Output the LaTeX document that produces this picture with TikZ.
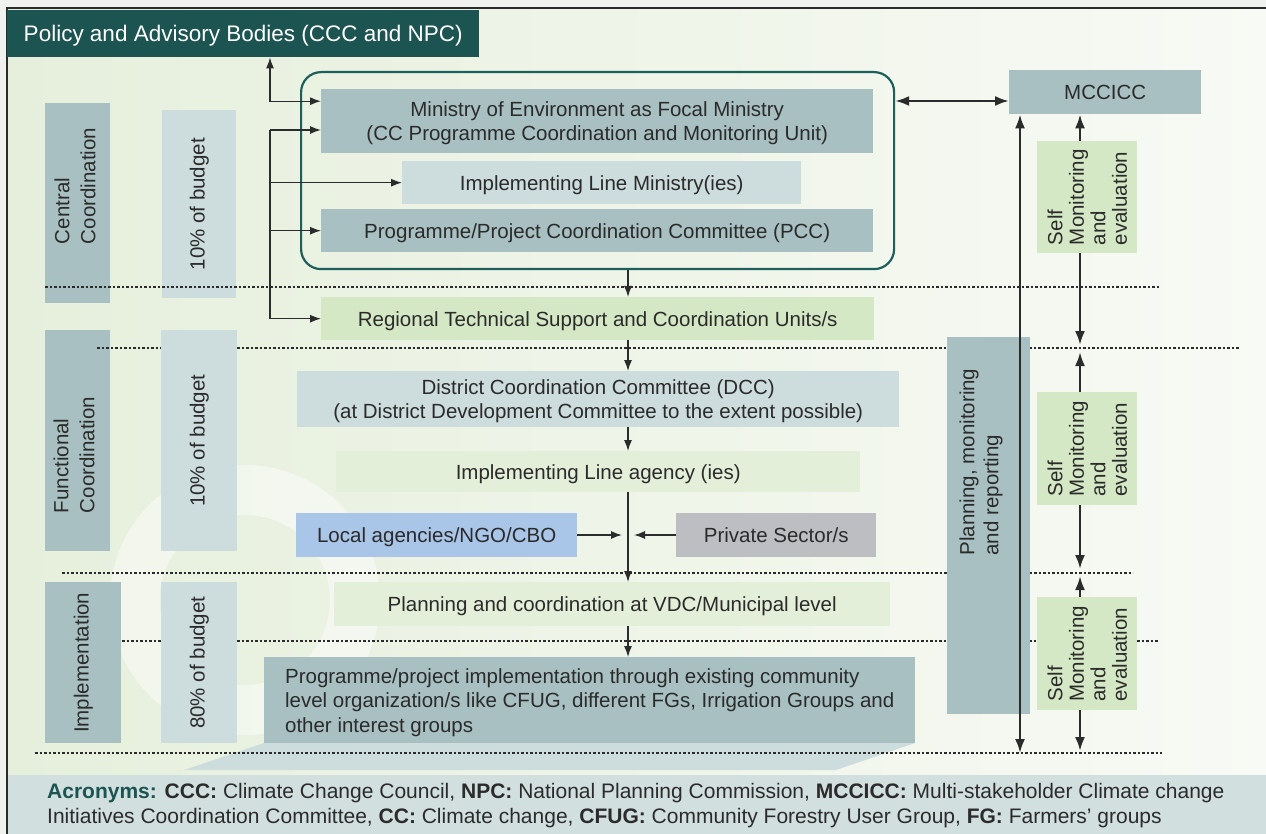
\documentclass[tikz,border=0pt]{standalone}
\usepackage{fontspec}
\setmainfont{Liberation Sans}
\usetikzlibrary{positioning, arrows.meta}

\definecolor{ink}{HTML}{2B2B2B}
\definecolor{title}{HTML}{1B5451}
\definecolor{frame}{HTML}{1F5F5B}
\definecolor{grey1}{HTML}{A8C0C1}
\definecolor{grey2}{HTML}{CDDCDC}
\definecolor{green1}{HTML}{D5E8C5}
\definecolor{green2}{HTML}{E4EFD9}
\definecolor{blue1}{HTML}{A9C5E8}
\definecolor{stone}{HTML}{BDBEC2}
\definecolor{bar}{HTML}{D2DFDF}
\definecolor{bgl}{HTML}{E6EFDC}
\definecolor{bgr}{HTML}{F8FAF5}
\definecolor{paper}{HTML}{F0F2EF}

\begin{document}
\begin{tikzpicture}[x=1pt, y=-1pt,
    every node/.style={inner sep=0pt, text=ink, font=\fontsize{20.5}{24}\selectfont},
    box/.style={rectangle, anchor=north west, align=center, text depth=0pt},
    vtext/.style={rotate=90, align=left},
    thin/.style={line width=1.3pt, draw=ink, -{Latex[length=11pt,width=8pt]}},
    thick/.style={line width=2.4pt, draw=ink, -{Latex[length=14pt,width=10pt]}},
    both/.style={line width=2.4pt, draw=ink, {Latex[length=14pt,width=10pt]}-{Latex[length=14pt,width=10pt]}},
    sep/.style={line width=1.2pt, draw=ink, dash pattern=on 2.5pt off 2pt}
  ]
  \useasboundingbox (0,0) rectangle (1266,834);
  \fill[paper] (0,0) rectangle (1266,834);
  \shade[left color=bgl, right color=bgr] (7,8) rectangle (1266,775);
  \begin{scope}
    \clip (7,8) rectangle (1266,775);
    \fill[white, opacity=0.45, even odd rule] (245,600) circle (135) (245,600) circle (85);
  \end{scope}
  \fill[grey2] (264,743) -- (915,743) -- (836,770) -- (184,770) -- cycle;
  \fill[bar] (7,775) rectangle (1266,834);
  \draw[line width=1.2pt, draw=ink] (7,834) -- (7,8) -- (1266,8);

  \node[box, fill=title, text=white, minimum width=472, minimum height=47,
    font=\fontsize{22.5}{26}\selectfont] (pab) at (7,10)
    {Policy and Advisory Bodies (CCC and NPC)};

  \node[box, fill=grey1, minimum width=65, minimum height=200] (cc) at (45,103) {};
  \node[box, fill=grey2, minimum width=74, minimum height=188] (b1) at (162,110) {};
  \node[box, fill=grey1, minimum width=65, minimum height=221] (fc) at (45,330) {};
  \node[box, fill=grey2, minimum width=76, minimum height=221] (b2) at (161,330) {};
  \node[box, fill=grey1, minimum width=76, minimum height=161] (im) at (45,582) {};
  \node[box, fill=grey2, minimum width=76, minimum height=161] (b3) at (161,582) {};
  \node[vtext, font=\fontsize{20.5}{26}\selectfont] (cc-t) at (75,186) {Central\\Coordination};
  \node[vtext] (b1-t) at (b1) {10\% of budget};
  \node[vtext, font=\fontsize{20.5}{26}\selectfont] (fc-t) at (74,455) {Functional\\Coordination};
  \node[vtext] (b2-t) at (b2) {10\% of budget};
  \node[vtext] (im-t) at (im) {Implementation};
  \node[vtext] (b3-t) at (b3) {80\% of budget};

  \draw[sep] (45,287) -- (1160,287);
  \draw[sep] (97,348) -- (161,348) (237,348) -- (1240,348);
  \draw[sep] (62,573) -- (1133,573);
  \draw[sep] (122,641) -- (161,641) (237,641) -- (1158,641);
  \draw[sep] (35,753) -- (1162,753);

  \node[box, draw=frame, line width=2.2pt, rounded corners=20pt, minimum width=593,
    minimum height=197] (cg) at (300,71) {};
  \node[box, fill=grey1, minimum width=552, minimum height=64] (moe) at (321,89)
    {Ministry of Environment as Focal Ministry\\(CC Programme Coordination and Monitoring Unit)};
  \node[box, fill=grey2, minimum width=399, minimum height=43] (ilm) at (402,161)
    {Implementing Line Ministry(ies)};
  \node[box, fill=grey1, minimum width=552, minimum height=43] (pcc) at (321,209)
    {Programme/Project Coordination Committee (PCC)};
  \node[box, fill=green1, minimum width=553, minimum height=43] (rtsu) at (321,297)
    {Regional Technical Support and Coordination Units/s};
  \node[box, fill=grey2, minimum width=602, minimum height=56] (dcc) at (297,371)
    {District Coordination Committee (DCC)\\(at District Development Committee to the extent possible)};
  \node[box, fill=green2, minimum width=524, minimum height=41] (ila) at (336,451)
    {Implementing Line agency (ies)};
  \node[box, fill=blue1, minimum width=281, minimum height=44] (lngo) at (296,513)
    {Local agencies/NGO/CBO};
  \node[box, fill=stone, minimum width=200, minimum height=44] (psec) at (676,513)
    {Private Sector/s};
  \node[box, fill=green2, minimum width=556, minimum height=44] (vdc) at (334,582)
    {Planning and coordination at VDC/Municipal level};
  \node[box, fill=grey1, minimum width=651, minimum height=86, align=left,
    font=\fontsize{20.5}{24.5}\selectfont] (pim) at (264,657)
    {Programme/project implementation through existing community\\
     level organization/s like CFUG, different FGs, Irrigation Groups and\\
     other interest groups};

  \node[box, fill=grey1, minimum width=192, minimum height=44] (mcc) at (1009,70) {MCCICC};
  \node[box, fill=grey1, minimum width=83, minimum height=377] (pmr) at (947,337) {};
  \node[vtext] (pmr-t) at (981,462) {Planning, monitoring\\and reporting};
  \node[box, fill=green1, minimum width=100, minimum height=112] (sme1) at (1037,141) {};
  \node[box, fill=green1, minimum width=100, minimum height=113] (sme2) at (1037,392) {};
  \node[box, fill=green1, minimum width=100, minimum height=113] (sme3) at (1037,597) {};
  \node[vtext, font=\fontsize{20.5}{21.5}\selectfont] (sme1-t) at (sme1) {Self\\Monitoring\\and\\evaluation};
  \node[vtext, font=\fontsize{20.5}{21.5}\selectfont] (sme2-t) at (sme2) {Self\\Monitoring\\and\\evaluation};
  \node[vtext, font=\fontsize{20.5}{21.5}\selectfont] (sme3-t) at (sme3) {Self\\Monitoring\\and\\evaluation};

  \coordinate (trunk) at (270,130);
  \draw[thin, {Latex[length=11pt,width=8pt]}-{Latex[length=11pt,width=8pt]}]
    (pab.south -| trunk) |- ([yshift=20pt]moe.west);
  \draw[thin, -] (trunk) -- (trunk |- rtsu.west);
  \draw[thin] (trunk) -- (moe.west |- trunk);
  \draw[thin] (trunk |- ilm) -- (ilm.west);
  \draw[thin] (trunk |- pcc) -- (pcc.west);
  \draw[thin] (trunk |- rtsu) -- (rtsu.west);

  \coordinate (axis) at (628,0);
  \coordinate (meet) at (628,535);
  \draw[thin] (cg.south -| axis) -- (rtsu.north -| axis);
  \draw[thin] (rtsu.south -| axis) -- (dcc.north -| axis);
  \draw[thin] (dcc.south -| axis) -- (ila.north -| axis);
  \draw[thin] (ila.south -| axis) -- (vdc.north -| axis);
  \draw[thin] (lngo.east |- meet) -- ([xshift=-6pt]meet);
  \draw[thin] (psec.west |- meet) -- ([xshift=6pt]meet);
  \draw[thin] (vdc.south -| axis) -- (pim.north -| axis);

  \coordinate (link) at (960,101);
  \coordinate (spine) at (1020,753);
  \draw[both] (cg.east |- link) -- (mcc.west |- link);
  \draw[both] (spine) -- (mcc.south -| spine);
  \coordinate (s1) at (1080,345);
  \coordinate (s2) at (1080,352);
  \coordinate (s3) at (1080,569);
  \coordinate (s4) at (1080,576);
  \coordinate (s5) at (1080,751);
  \draw[thick] (sme1.north -| s1) -- (mcc.south -| s1);
  \draw[thick] (sme1.south -| s1) -- (s1);
  \draw[thick] (sme2.north -| s1) -- (s2);
  \draw[thick] (sme2.south -| s1) -- (s3);
  \draw[thick] (sme3.north -| s1) -- (s4);
  \draw[thick] (sme3.south -| s1) -- (s5);

  \node[anchor=north west, align=left, font=\fontsize{21}{25}\selectfont] (acr) at (47,783)
    {\textcolor{title}{\textbf{Acronyms:}} \textbf{CCC:} Climate Change Council, \textbf{NPC:} National Planning Commission, \textbf{MCCICC:} Multi-stakeholder Climate change\\
     Initiatives Coordination Committee, \textbf{CC:} Climate change, \textbf{CFUG:} Community Forestry User Group, \textbf{FG:} Farmers' groups};
\end{tikzpicture}
\end{document}
